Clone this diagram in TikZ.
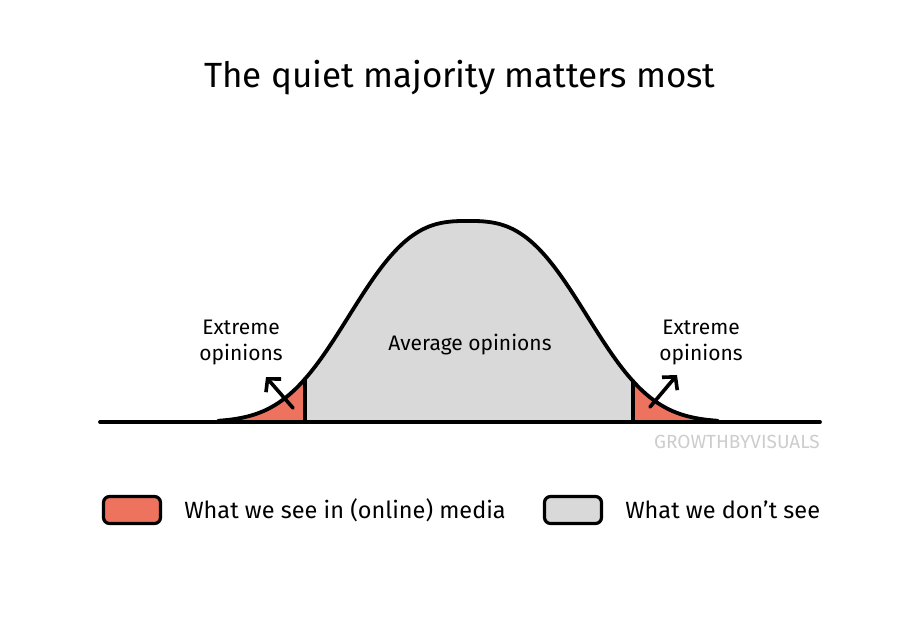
\documentclass[tikz,border=0pt]{standalone}
\usepackage{fontspec}
\setmainfont{Fira Sans}
\usetikzlibrary{arrows.meta, positioning}
\definecolor{mediared}{HTML}{EE735F}
\definecolor{unseengray}{HTML}{D9D9D9}
\definecolor{stampgray}{HTML}{CDCDCD}
% bell shape, in picture units (pixels of the layout)
\pgfmathdeclarefunction{bell}{1}{%
  \pgfmathparse{422-201*exp(-pow((abs(#1-468)+0.01)/139.7,2.8))}%
}

\begin{document}
\begin{tikzpicture}[
    x=1pt, y=-1pt,
    line join=round, line cap=round,
    ink/.style={line width=3.8pt},
    arr/.style={-{Straight Barb[length=9pt, width=20pt]}, line width=3.6pt},
    lbl/.style={font=\fontsize{21}{26}\selectfont, align=center, inner sep=0pt},
    legbox/.style={draw, line width=3.2pt, rounded corners=6pt,
                   minimum width=57pt, minimum height=27pt},
    legtxt/.style={font=\fontsize{23.5}{28}\selectfont, inner sep=0pt},
]
\useasboundingbox[fill=white] (0,0) rectangle (916,625);

% areas under the curve
\fill[mediared] (226,422) -- plot[domain=226:305, samples=40] (\x,{bell(\x)}) -- (305,422) -- cycle;
\fill[unseengray] (305,422) -- plot[domain=305:633, samples=120] (\x,{bell(\x)}) -- (633,422) -- cycle;
\fill[mediared] (633,422) -- plot[domain=633:712, samples=40] (\x,{bell(\x)}) -- (712,422) -- cycle;

% cut lines, curve and axis
\draw[ink] (305,422) -- (305,{bell(305)});
\draw[ink] (633,422) -- (633,{bell(633)});
\draw[ink] plot[domain=218:718, samples=200, smooth] (\x,{bell(\x)});
\draw[ink] (100,422) -- (820,422);

\node[font=\fontsize{35}{40}\selectfont, anchor=base] (title) at (460,87) {The quiet majority matters most};

\node[lbl, anchor=base] (avg) at (470,350) {Average opinions};
\node[lbl] (lext) at (241,342) {Extreme\\opinions};
\node[lbl] (rext) at (701,342) {Extreme\\opinions};

\coordinate (ltail) at (293,408);
\coordinate (lhead) at (266,377);
\coordinate (rtail) at (650,407);
\coordinate (rhead) at (677,375);
\draw[arr] (ltail) -- (lhead);
\draw[arr] (rtail) -- (rhead);

\node[font=\fontsize{19}{20}\selectfont, text=stampgray, anchor=base east, inner sep=0pt]
  (stamp) at (820,448) {GROWTHBYVISUALS};

% legend
\node[legbox, fill=mediared] (seen) at (132,510) {};
\node[legtxt, right=22pt of seen] (seentxt) {What we see in (online) media};
\node[legbox, fill=unseengray] (unseen) at (573,510) {};
\node[legtxt, right=22pt of unseen] (unseentxt) {What we don’t see};
\end{tikzpicture}
\end{document}
